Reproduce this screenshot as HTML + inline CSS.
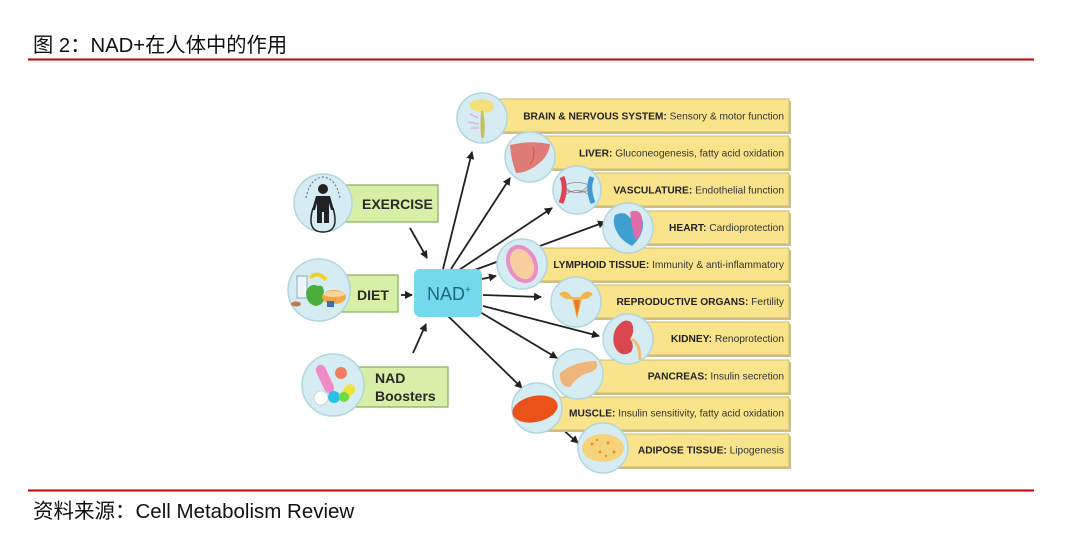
<!DOCTYPE html>
<html><head><meta charset="utf-8"><style>
html,body{margin:0;padding:0;background:#fff;}
body{width:1072px;height:533px;overflow:hidden;position:relative;font-family:"Liberation Sans","Noto Sans CJK SC",sans-serif;}
svg{position:absolute;left:0;top:0;}
</style></head><body>
<svg width="1072" height="533" viewBox="0 0 1072 533" xmlns="http://www.w3.org/2000/svg" font-family="Liberation Sans, Noto Sans CJK SC, sans-serif">
<defs>
<marker id="ah" markerUnits="userSpaceOnUse" markerWidth="10" markerHeight="10" refX="7" refY="4" orient="auto">
<path d="M0,0 L8,4 L0,8 Z" fill="#222"/>
</marker>
</defs>
<!-- header -->
<text x="33" y="52" font-size="20.3" fill="#111">图 2：NAD+在人体中的作用</text>
<rect x="28" y="58.5" width="1006" height="2" fill="#c00000"/>
<rect x="28" y="489.5" width="1006" height="2" fill="#c00000"/>
<text x="33" y="518" font-size="20.5" fill="#111">资料来源：Cell Metabolism Review</text>

<!-- connectors -->
<g stroke="#222" stroke-width="1.8" fill="none" marker-end="url(#ah)">
<line x1="410" y1="228" x2="427" y2="258"/>
<line x1="401" y1="295" x2="412" y2="295"/>
<line x1="413" y1="353" x2="426" y2="324"/>
<line x1="443" y1="269" x2="472" y2="152"/>
<line x1="451" y1="269" x2="510" y2="178"/>
<line x1="459" y1="270" x2="552" y2="208"/>
<line x1="472" y1="271" x2="605" y2="222"/>
<line x1="482" y1="279" x2="496" y2="276"/>
<line x1="483" y1="295" x2="541" y2="297"/>
<line x1="483" y1="306" x2="599" y2="336"/>
<line x1="480" y1="312" x2="557" y2="358"/>
<line x1="448" y1="316" x2="522" y2="388"/>
<line x1="561" y1="428" x2="578" y2="443"/>
</g>

<!-- box shadows -->
<g fill="#cbbf94">
<rect x="484" y="101" width="307" height="33"/>
<rect x="532" y="138" width="259" height="33"/>
<rect x="579" y="175" width="212" height="33"/>
<rect x="630" y="213" width="161" height="33"/>
<rect x="523" y="250" width="268" height="33"/>
<rect x="577" y="287" width="214" height="33"/>
<rect x="630" y="324" width="161" height="33"/>
<rect x="580" y="362" width="211" height="33"/>
<rect x="539" y="399" width="252" height="33"/>
<rect x="605" y="436" width="186" height="33"/>
</g>
<!-- yellow boxes -->
<g fill="#f9e48c" stroke="#cdb86c" stroke-width="1">
<rect x="482" y="99" width="307" height="33"/>
<rect x="530" y="136" width="259" height="33"/>
<rect x="577" y="173" width="212" height="33"/>
<rect x="628" y="211" width="161" height="33"/>
<rect x="521" y="248" width="268" height="33"/>
<rect x="575" y="285" width="214" height="33"/>
<rect x="628" y="322" width="161" height="33"/>
<rect x="578" y="360" width="211" height="33"/>
<rect x="537" y="397" width="252" height="33"/>
<rect x="603" y="434" width="186" height="33"/>
</g>

<!-- box labels -->
<g font-size="10.2" fill="#333" text-anchor="end">
<text x="784" y="119.5"><tspan font-weight="bold" fill="#222">BRAIN &amp; NERVOUS SYSTEM:</tspan> Sensory &amp; motor function</text>
<text x="784" y="156.5"><tspan font-weight="bold" fill="#222">LIVER:</tspan>  Gluconeogenesis, fatty acid oxidation</text>
<text x="784" y="193.5"><tspan font-weight="bold" fill="#222">VASCULATURE:</tspan> Endothelial function</text>
<text x="784" y="231"><tspan font-weight="bold" fill="#222">HEART:</tspan>  Cardioprotection</text>
<text x="784" y="268"><tspan font-weight="bold" fill="#222">LYMPHOID TISSUE:</tspan> Immunity &amp; anti-inflammatory</text>
<text x="784" y="305"><tspan font-weight="bold" fill="#222">REPRODUCTIVE ORGANS:</tspan> Fertility</text>
<text x="784" y="342"><tspan font-weight="bold" fill="#222">KIDNEY:</tspan>  Renoprotection</text>
<text x="784" y="379.5"><tspan font-weight="bold" fill="#222">PANCREAS:</tspan> Insulin secretion</text>
<text x="784" y="416.5"><tspan font-weight="bold" fill="#222">MUSCLE:</tspan> Insulin sensitivity, fatty acid oxidation</text>
<text x="784" y="453.5"><tspan font-weight="bold" fill="#222">ADIPOSE TISSUE:</tspan>  Lipogenesis</text>
</g>

<!-- right circles -->
<g fill="#d6ecf3" stroke="#b3d5e0" stroke-width="1.5">
<circle cx="482" cy="118" r="25"/>
<circle cx="530" cy="157" r="25"/>
<circle cx="577" cy="190" r="24"/>
<circle cx="628" cy="228" r="25"/>
<circle cx="522" cy="264" r="25"/>
<circle cx="576" cy="302" r="25"/>
<circle cx="628" cy="339" r="25"/>
<circle cx="578" cy="374" r="25"/>
<circle cx="537" cy="408" r="25"/>
<circle cx="603" cy="448" r="25"/>
</g>

<!-- brain icon -->
<path d="M470 103 Q480 96 492 102 Q497 108 490 112 Q483 114 476 111 Q468 109 470 103Z" fill="#f3e07a"/>
<path d="M483 111 Q486 125 484 137 Q483 140 481 137 Q480 125 481 111Z" fill="#c8c060"/>
<path d="M470 114 L478 118 M468 122 L479 124 M471 128 L479 128" stroke="#e8a8d8" stroke-width="1.3"/>
<!-- liver -->
<path d="M510 145 Q530 140 550 144 Q549 156 537 165 Q526 173 516 173 Q511 160 510 145Z" fill="#e07c78"/>
<path d="M533 147 Q536 156 530 165" stroke="#b85050" stroke-width="0.8" fill="none"/>
<!-- vasculature -->
<path d="M562 177 Q567 188 561 203" stroke="#e04050" stroke-width="5" fill="none"/>
<path d="M592 177 Q587 188 593 203" stroke="#3a9ad8" stroke-width="5" fill="none"/>
<path d="M565 185 Q577 180 589 185 M565 190 Q577 195 589 190 M565 195 Q577 186 589 195 M566 188 Q577 198 588 186" stroke="#888" stroke-width="0.8" fill="none"/>
<!-- heart -->
<path d="M615 215 Q625 210 630 218 Q640 212 643 222 Q644 235 632 246 Q620 240 616 230 Q612 222 615 215Z" fill="#3fa0d0"/>
<path d="M630 212 Q640 208 642 218 Q644 232 636 240 Q632 230 630 212Z" fill="#e26aa8"/>
<!-- lymphoid -->
<ellipse cx="522" cy="264" rx="15" ry="20" transform="rotate(-25 522 264)" fill="#e98ec8"/>
<ellipse cx="522" cy="264" rx="11" ry="16" transform="rotate(-25 522 264)" fill="#f6cfa0"/>
<!-- reproductive -->
<path d="M559 294 Q566 288 572 297 L580 297 Q586 288 593 294 Q588 300 582 299 L580 307 L577 319 L574 307 L572 299 Q564 300 559 294Z" fill="#f2b44e"/>
<path d="M574 300 L580 300 L577 317Z" fill="#e87a30"/>
<!-- kidney -->
<path d="M622 322 Q611 330 614 345 Q620 359 631 352 Q635 345 630 339 Q636 330 631 322 Q626 319 622 322Z" fill="#d94650"/>
<path d="M631 339 Q640 342 640 360" stroke="#f0c070" stroke-width="3" fill="none"/>
<!-- pancreas -->
<path d="M560 373 Q575 361 596 361 Q600 368 591 372 Q578 375 570 387 Q559 387 560 373Z" fill="#f0b57a"/>
<!-- muscle -->
<ellipse cx="535" cy="409" rx="23" ry="13" transform="rotate(-12 535 409)" fill="#e9531a"/>
<!-- adipose -->
<ellipse cx="603" cy="448" rx="21" ry="14" fill="#f6d37a"/>
<g fill="#e8902c">
<circle cx="592" cy="444" r="1.5"/><circle cx="600" cy="452" r="1.5"/><circle cx="608" cy="443" r="1.5"/><circle cx="614" cy="452" r="1.5"/><circle cx="597" cy="440" r="1.2"/><circle cx="606" cy="456" r="1.2"/>
</g>

<!-- left green boxes -->
<g fill="#d7efa6" stroke="#86ad5e" stroke-width="1.2">
<rect x="340" y="185" width="98" height="37"/>
<rect x="335" y="275" width="63" height="37"/>
<rect x="350" y="367" width="98" height="40"/>
</g>
<g font-size="14" font-weight="bold" fill="#2a2a2a">
<text x="362" y="209">EXERCISE</text>
<text x="357" y="300">DIET</text>
<text x="375" y="383">NAD</text>
<text x="375" y="401">Boosters</text>
</g>

<!-- left circles -->
<g fill="#d6ecf3" stroke="#b3d5e0" stroke-width="1.5">
<circle cx="323" cy="203" r="29"/>
<circle cx="319" cy="290" r="31"/>
<circle cx="333" cy="385" r="31"/>
</g>
<!-- exercise icon -->
<path d="M306 198 Q310 178 323 177 Q336 178 340 198" stroke="#667" stroke-width="1" stroke-dasharray="2 2" fill="none"/>
<circle cx="323" cy="189" r="5" fill="#222"/>
<path d="M316 196 L330 196 L334 210 L331 210 L329 203 L329 212 L329 223 L324 223 L324 212 L322 212 L322 223 L317 223 L317 203 L315 210 L312 210Z" fill="#222"/>
<path d="M313 208 Q306 232 323 232 Q340 232 333 208" stroke="#222" stroke-width="1.5" fill="none"/>
<!-- diet icon -->
<rect x="297" y="276" width="10" height="22" fill="#eef6fa" stroke="#8ab" stroke-width="1"/>
<path d="M310 278 Q318 270 326 280" stroke="#f0d030" stroke-width="4" fill="none"/>
<path d="M306 292 Q310 282 318 286 Q324 284 324 294 Q326 304 316 306 Q306 304 306 292Z" fill="#4cae3a"/>
<ellipse cx="334" cy="297" rx="12" ry="7" fill="#f0a848"/>
<ellipse cx="334" cy="294" rx="11" ry="3" fill="#f6d49a"/>
<ellipse cx="296" cy="304" rx="5" ry="2.5" fill="#c07a50"/>
<rect x="327" y="301" width="7" height="6" fill="#3a6fb8"/>
<!-- boosters icon -->
<rect x="320" y="364" width="10" height="30" rx="5" fill="#ef8bc7" transform="rotate(-25 325 379)"/>
<circle cx="341" cy="373" r="6" fill="#ef7e62"/>
<circle cx="321" cy="398" r="7" fill="#fff" stroke="#ccc" stroke-width="0.8"/>
<circle cx="334" cy="397" r="6" fill="#2bc0e4"/>
<rect x="342" y="383" width="10" height="20" rx="5" fill="#f2e23c" transform="rotate(40 347 393)"/>
<circle cx="344" cy="397" r="5" fill="#6cdc44"/>

<!-- NAD box -->
<rect x="414" y="269" width="68" height="48" rx="6" fill="#74d9ec"/>
<text x="427" y="300" font-size="18" fill="#1d6a7b">NAD<tspan font-size="10" dy="-7">+</tspan></text>
</svg>
</body></html>
